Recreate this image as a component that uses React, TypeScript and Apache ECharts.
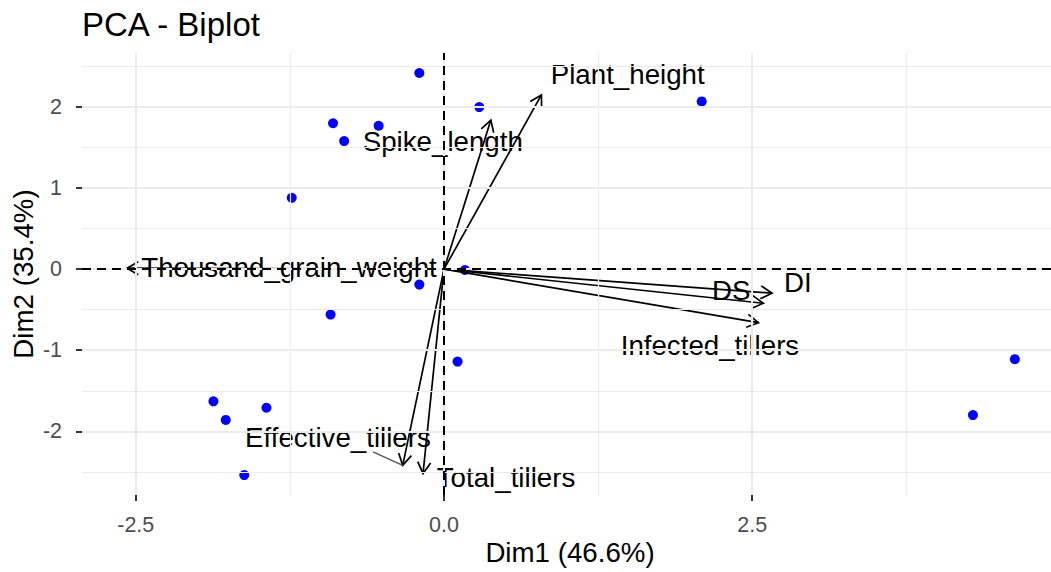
import React, { useEffect, useRef } from "react";
import * as echarts from "echarts";

// Individuals (blue points)
const indX = [-0.2, 0.286, -0.9, -0.53, -0.81, -1.235, 2.09, 0.17, -0.2, -0.92, 0.11, -1.87, -1.77, -1.44, -1.62, 4.63, 4.29];
const indY = [2.42, 2.0, 1.8, 1.77, 1.58, 0.88, 2.07, -0.01, -0.19, -0.56, -1.14, -1.63, -1.86, -1.71, -2.54, -1.11, -1.8];

// Variables (arrows)
const varNames = ["Plant_height", "Spike_length", "Thousand_grain_weight", "DI", "DS", "Infected_tillers", "Effective_tillers", "Total_tillers"];
const varX = [0.79, 0.38, -2.571, 2.66, 2.59, 2.55, -0.335, -0.17];
const varY = [2.15, 1.84, 0.012, -0.296, -0.42, -0.66, -2.42, -2.52];
// Repelled label positions (data units)
const labelX = [1.49, -0.01, -1.257, 2.87, 2.33, 2.157, -0.86, 0.503];
const labelY = [2.4, 1.57, 0.016, -0.16, -0.26, -0.946, -2.077, -2.57];
// Repel segment (label anchor -> arrow tip of Effective_tillers)
const segFrom = [-0.576, -2.255];
const segVar = 6;

// Axis ticks
const xTicks = [-2.5, 0, 2.5];
const yTicks = [-2, -1, 0, 1, 2];
const xMinor = [-1.25, 1.25, 3.75];
const yMinor = [-2.5, -1.5, -0.5, 0.5, 1.5, 2.5];

const FONT = '"Liberation Sans", Arial, sans-serif';

export default function App() {
  const ref = useRef<HTMLDivElement>(null);
  useEffect(() => {
    if (!ref.current) return;
    const chart = echarts.init(ref.current, undefined, { renderer: "svg" });

    const gridLine = (axis: "xAxis" | "yAxis", v: number, w: number) => ({
      [axis]: v,
      lineStyle: { color: "#EBEBEB", width: w, type: "solid" },
    });

    const arrowData = varNames.map((n, i) => [varX[i], varY[i], i]);
    const labelData = varNames.map((n, i) => [labelX[i], labelY[i], i]);

    const option: any = {
      animation: false,
      grid: { left: 82, right: 0, top: 53, bottom: 77, containLabel: false },
      xAxis: {
        type: "value",
        min: -2.936,
        max: 4.923,
        splitLine: { show: false },
        axisLine: { show: true, onZero: false, lineStyle: { color: "rgba(0,0,0,0)" } },
        axisTick: { show: true, customValues: xTicks, length: 6, lineStyle: { color: "#333", width: 2 } },
        axisLabel: {
          customValues: xTicks,
          formatter: (v: number) => v.toFixed(1),
          fontSize: 21.5,
          fontFamily: FONT,
          color: "#4D4D4D",
          margin: 19,
        },
      },
      yAxis: {
        type: "value",
        min: -2.786,
        max: 2.667,
        splitLine: { show: false },
        axisLine: { show: true, onZero: false, lineStyle: { color: "rgba(0,0,0,0)" } },
        axisTick: { show: true, customValues: yTicks, length: 6, lineStyle: { color: "#333", width: 2 } },
        axisLabel: {
          customValues: yTicks,
          formatter: (v: number) => String(v),
          fontSize: 21.5,
          fontFamily: FONT,
          color: "#4D4D4D",
          margin: 20,
        },
      },
      graphic: [
        { type: "text", x: 82, y: 24, style: { text: "PCA - Biplot", fontSize: 33, fontFamily: FONT, fill: "#000", align: "left", verticalAlign: "middle" } },
        { type: "text", x: 570, y: 552, style: { text: "Dim1 (46.6%)", fontSize: 27.7, fontFamily: FONT, fill: "#000", align: "center", verticalAlign: "middle" } },
        { type: "text", x: 23, y: 274, rotation: Math.PI / 2, style: { text: "Dim2 (35.4%)", fontSize: 27.7, fontFamily: FONT, fill: "#000", align: "center", verticalAlign: "middle" } },
      ],
      series: [
        {
          type: "line",
          data: [],
          z: 0,
          silent: true,
          markLine: {
            silent: true,
            symbol: "none",
            label: { show: false },
            animation: false,
            data: [
              ...xTicks.map((v) => gridLine("xAxis", v, 2)),
              ...xMinor.map((v) => gridLine("xAxis", v, 1.2)),
              ...yTicks.map((v) => gridLine("yAxis", v, 2)),
              ...yMinor.map((v) => gridLine("yAxis", v, 1.2)),
            ],
          },
        },
        {
          type: "line",
          data: [],
          z: 1,
          silent: true,
          markLine: {
            silent: true,
            symbol: "none",
            label: { show: false },
            animation: false,
            data: [
              { xAxis: 0, lineStyle: { color: "#000", width: 2, type: [9, 6] } },
              { yAxis: 0, lineStyle: { color: "#000", width: 2, type: [9, 6] } },
            ],
          },
        },
        {
          type: "scatter",
          z: 2,
          symbol: "circle",
          symbolSize: 10,
          itemStyle: { color: "#0000FF", opacity: 1 },
          data: indX.map((x, i) => [x, indY[i]]),
        },
        {
          type: "custom",
          z: 3,
          coordinateSystem: "cartesian2d",
          data: arrowData,
          renderItem: (params: any, api: any) => {
            const o = api.coord([0, 0]);
            const t = api.coord([api.value(0), api.value(1)]);
            const dx = t[0] - o[0];
            const dy = t[1] - o[1];
            const len = Math.sqrt(dx * dx + dy * dy);
            const ux = dx / len;
            const uy = dy / len;
            const L = 13;
            const a = Math.PI / 6;
            const rot = (s: number) => [
              t[0] - L * (ux * Math.cos(s * a) - uy * Math.sin(s * a)),
              t[1] - L * (ux * Math.sin(s * a) + uy * Math.cos(s * a)),
            ];
            return {
              type: "group",
              children: [
                { type: "line", shape: { x1: o[0], y1: o[1], x2: t[0], y2: t[1] }, style: { stroke: "#000", lineWidth: 1.7 } },
                { type: "polyline", shape: { points: [rot(1), t, rot(-1)] }, style: { stroke: "#000", lineWidth: 1.7, fill: null } },
              ],
            };
          },
        },
        {
          type: "custom",
          z: 4,
          coordinateSystem: "cartesian2d",
          data: labelData,
          renderItem: (params: any, api: any) => {
            const i = api.value(2);
            const p = api.coord([api.value(0), api.value(1)]);
            const children: any[] = [
              {
                type: "text",
                x: p[0],
                y: p[1],
                style: { text: varNames[i], fontSize: 27.7, fontFamily: FONT, fill: "#000", align: "center", verticalAlign: "middle" },
              },
            ];
            if (i === segVar) {
              const a = api.coord(segFrom);
              const b = api.coord([varX[i], varY[i]]);
              children.push({ type: "line", shape: { x1: a[0], y1: a[1], x2: b[0], y2: b[1] }, style: { stroke: "#555", lineWidth: 1.3 } });
            }
            return { type: "group", children };
          },
        },
      ],
    };
    chart.setOption(option);
    return () => chart.dispose();
  }, []);
  return <div ref={ref} style={{ position: "fixed", left: 0, top: 0, width: 1051, height: 572, background: "#fff" }} />;
}
